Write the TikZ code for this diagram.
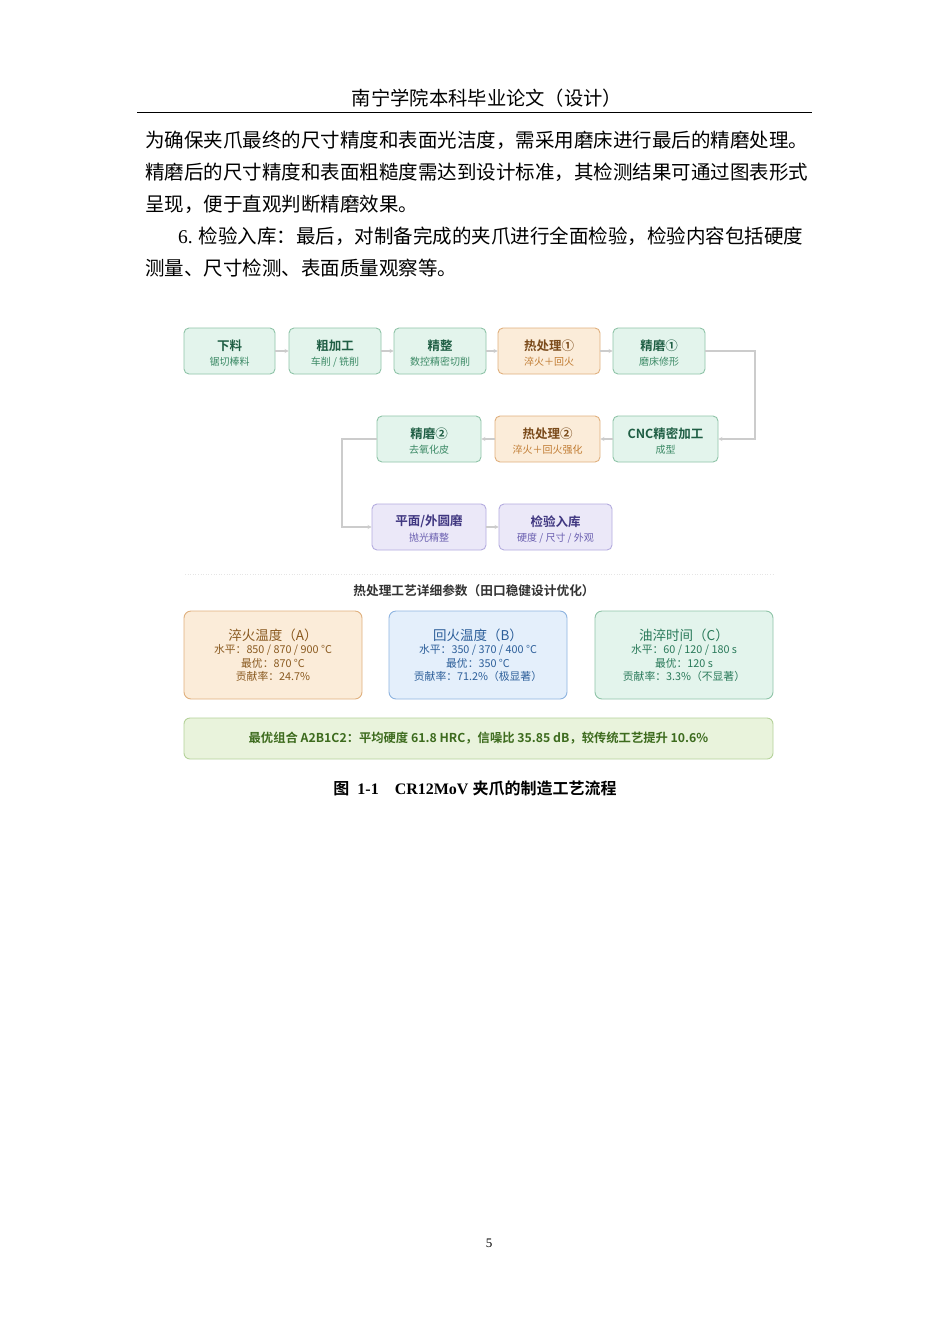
\documentclass[tikz,border=0pt]{standalone}
\usepackage{fontspec}
\setmainfont{Liberation Serif}
\newfontfamily\cjk{Noto Sans CJK SC}[BoldFont={Noto Sans CJK SC Bold}]
\usetikzlibrary{arrows.meta}
\definecolor{gF}{HTML}{E3F4EC}\definecolor{gD}{HTML}{8FC4A8}\definecolor{gT}{HTML}{1F5E44}\definecolor{gS}{HTML}{3C8A66}
\definecolor{oF}{HTML}{FBECD9}\definecolor{oD}{HTML}{E0B07E}\definecolor{oT}{HTML}{7A4A1A}\definecolor{oS}{HTML}{C07A30}
\definecolor{pF}{HTML}{EBE8F8}\definecolor{pD}{HTML}{B4ACDF}\definecolor{pT}{HTML}{3F3680}\definecolor{pS}{HTML}{6A5FB0}
\definecolor{bF}{HTML}{E4EFFB}\definecolor{bD}{HTML}{8EB4E0}\definecolor{bT}{HTML}{2D5F9A}
\definecolor{cT}{HTML}{2A7A5A}\definecolor{aT}{HTML}{8A5A20}
\definecolor{lF}{HTML}{E9F3DC}\definecolor{lD}{HTML}{B5D29A}\definecolor{lT}{HTML}{3D6B1E}
\definecolor{ar}{HTML}{CCCCCC}
\begin{document}
\begin{tikzpicture}[x=1pt,y=-1pt,
  body/.style={anchor=west,inner sep=0pt,font=\cjk\fontsize{19.5}{19.5}\selectfont},
  box/.style={draw=#1D,fill=#1F,rounded corners=5pt,line width=0.9pt,minimum height=46pt,inner sep=0pt,align=center},
  arr/.style={draw=ar,line width=1.4pt,-{Stealth[length=4pt,width=4pt]}},
  pbox/.style={rounded corners=7pt,line width=0.9pt,minimum width=178pt,minimum height=88pt,inner sep=0pt,align=center,font=\cjk\fontsize{10.8}{17}\selectfont}]
\useasboundingbox[fill=white] (0,0) rectangle (950,1344);
\node[inner sep=0pt,font=\cjk\fontsize{19.3}{19}\selectfont] (hdr) at (487,98) {南宁学院本科毕业论文（设计）};
\draw[line width=0.8pt] (137,112) -- (812,112);
\node[body] (p1) at (145,140) {为确保夹爪最终的尺寸精度和表面光洁度，需采用磨床进行最后的精磨处理。};
\node[body] (p2) at (145,172) {精磨后的尺寸精度和表面粗糙度需达到设计标准，其检测结果可通过图表形式};
\node[body] (p3) at (145,204) {呈现，便于直观判断精磨效果。};
\node[body] (p4) at (178,236) {{\rmfamily 6.} 检验入库：最后，对制备完成的夹爪进行全面检验，检验内容包括硬度};
\node[body] (p5) at (145,268) {测量、尺寸检测、表面质量观察等。};
\newcommand\bx[7]{\node[box=#1,minimum width=#4pt,text depth=0pt] (#2) at (#3) {\raisebox{-3pt}{\shortstack{{\cjk\bfseries\fontsize{12.5}{15}\selectfont\color{#1T}#5}\\[2pt]{\cjk\fontsize{10}{11}\selectfont\color{#1S}#6}}}};}
\bx{g}{n1}{229.5,351}{91}{下料}{锯切棒料}{}
\bx{g}{n2}{335,351}{92}{粗加工}{车削 / 铣削}{}
\bx{g}{n3}{440,351}{92}{精整}{数控精密切削}{}
\bx{o}{n4}{549,351}{102}{热处理①}{淬火＋回火}{}
\bx{g}{n5}{659,351}{92}{精磨①}{磨床修形}{}
\bx{g}{n6}{665.5,439}{105}{CNC精密加工}{成型}{}
\bx{o}{n7}{547.5,439}{105}{热处理②}{淬火＋回火强化}{}
\bx{g}{n8}{429,439}{104}{精磨②}{去氧化皮}{}
\bx{p}{n9}{429,527}{114}{平面/外圆磨}{抛光精整}{}
\bx{p}{n10}{555.5,527}{113}{检验入库}{硬度 / 尺寸 / 外观}{}
\draw[arr] (n1) -- (n2);
\draw[arr] (n2) -- (n3);
\draw[arr] (n3) -- (n4);
\draw[arr] (n4) -- (n5);
\draw[arr] (n5.east) -- (755,351) -- (755,439) -- (n6.east);
\draw[arr] (n6) -- (n7);
\draw[arr] (n7) -- (n8);
\draw[arr] (n8.west) -- (342,439) -- (342,527) -- (n9.west);
\draw[arr] (n9) -- (n10);
\draw[ar!50,dotted,line width=0.6pt] (185,574) -- (775,574);
\node[inner sep=0pt,font=\cjk\bfseries\fontsize{12.7}{13}\selectfont,text=black!80] (ttl) at (474,591) {热处理工艺详细参数（田口稳健设计优化）};
\node[pbox,draw=oD,fill=oF,text=aT] (pa) at (273,655) {\raisebox{-4pt}{\shortstack{{\fontsize{13.5}{14}\selectfont 淬火温度（A）}\\水平：850 / 870 / 900 °C\\最优：870 °C\\贡献率：24.7\%}}};
\node[pbox,draw=bD,fill=bF,text=bT] (pb) at (478,655) {\raisebox{-4pt}{\shortstack{{\fontsize{13.5}{14}\selectfont 回火温度（B）}\\水平：350 / 370 / 400 °C\\最优：350 °C\\贡献率：71.2\%（极显著）}}};
\node[pbox,draw=gD,fill=gF,text=cT] (pc) at (684,655) {\raisebox{-4pt}{\shortstack{{\fontsize{13.5}{14}\selectfont 油淬时间（C）}\\水平：60 / 120 / 180 s\\最优：120 s\\贡献率：3.3\%（不显著）}}};
\node[draw=lD,fill=lF,rounded corners=6pt,line width=0.9pt,minimum width=589pt,minimum height=41pt,inner sep=0pt,text=lT,font=\cjk\bfseries\fontsize{12.3}{13}\selectfont] (opt) at (478.5,738.5) {最优组合 A2B1C2：平均硬度 61.8 HRC，信噪比 35.85 dB，较传统工艺提升 10.6\%};
\node[inner sep=0pt,font=\bfseries\fontsize{16}{16}\selectfont] (cap) at (475,788) {{\cjk\bfseries 图}\ \ 1-1\quad CR12MoV {\cjk\bfseries 夹爪的制造工艺流程}};
\node[inner sep=0pt,font=\fontsize{13}{13}\selectfont] (pg) at (489,1243) {5};
\end{tikzpicture}
\end{document}
